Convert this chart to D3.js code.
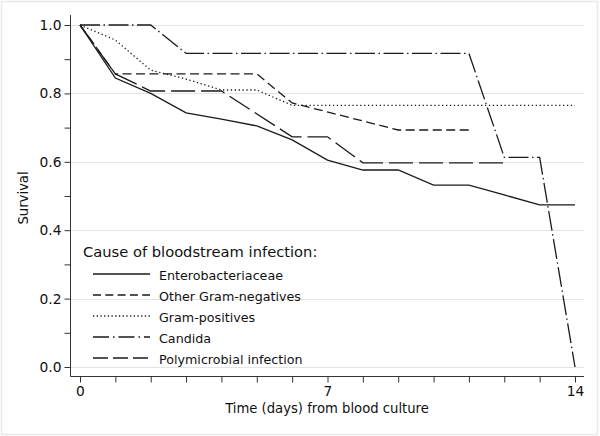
<!DOCTYPE html>
<html><head><meta charset="utf-8">
<script src="https://cdn.jsdelivr.net/npm/d3@7"></script>
<style>
html,body{margin:0;padding:0;background:#fff;}
svg{display:block;font-family:"DejaVu Sans",sans-serif;}
</style></head>
<body>
<svg id="chart" width="600" height="436"></svg>
<script>
// ---- data ----
const seriesNames = ["Enterobacteriaceae","Other Gram-negatives","Gram-positives","Candida","Polymicrobial infection"];
const enteroDays = [0,1,2,3,4,5,6,7,8,9,10,11,12,13,14];
const enteroSurv = [1,0.845,0.80,0.743,0.725,0.705,0.664,0.605,0.576,0.576,0.532,0.532,0.503,0.474,0.474];
const otherGnDays = [0,1,5,6,9,11];
const otherGnSurv = [1,0.857,0.857,0.772,0.693,0.693];
const gramPosDays = [0,1,2,3,4,5,6,14];
const gramPosSurv = [1,0.956,0.868,0.842,0.810,0.810,0.765,0.765];
const candidaDays = [0,2,3,11,12,13,14];
const candidaSurv = [1,1,0.917,0.917,0.613,0.613,0];
const polyDays = [0,1,2,4,6,7,8,12];
const polySurv = [1,0.857,0.807,0.807,0.673,0.673,0.597,0.597];
const yTicks = [0,0.2,0.4,0.6,0.8,1.0];
const yMinorTicks = [0.1,0.3,0.5,0.7,0.9];
const xTicks = d3.range(0,15);
const xLabels = [0,7,14];
const legendTitle = "Cause of bloodstream infection:";
const xTitle = "Time (days) from blood culture";
const yTitle = "Survival";

// styles
const plotDash = ["", "9,4.5", "1.3,2.6", "20,3.5,1.5,3.5", "24,6"];
const legendDash = ["", "8,4.3", "1.3,2.4", "16,4,1.5,4", "15,5"];

const svg = d3.select("#chart");
const W = 600, H = 436;
svg.append("rect").attr("x",1.5).attr("y",1.5).attr("width",W-4).attr("height",H-3)
  .attr("fill","#fff").attr("stroke","#e9e9e9").attr("stroke-width",1.5);

const x = d3.scaleLinear().domain([0,14]).range([80,575]);
const y = d3.scaleLinear().domain([0,1]).range([367,25]);
const axisX = 70.5, axisY = 376.5, plotRight = 584;

// gridlines
svg.append("g").selectAll("line").data(yTicks).join("line")
  .attr("x1",axisX).attr("x2",plotRight)
  .attr("y1",d=>Math.round(y(d))+0.5).attr("y2",d=>Math.round(y(d))+0.5)
  .attr("stroke","#e4e4e4").attr("stroke-width",1.2);

// y axis
const yAxis = d3.axisLeft(y).tickValues(yTicks).tickFormat(d3.format(".1f")).tickSize(6).tickPadding(3);
const gy = svg.append("g").attr("transform",`translate(${axisX},0)`).call(yAxis);
gy.select(".domain").attr("d",`M0,15V${axisY}`).attr("stroke","#333");
gy.selectAll(".tick line").attr("stroke","#333");
gy.selectAll(".tick text").attr("font-size",13.8).attr("font-family","DejaVu Sans").attr("fill","#111");
svg.append("g").attr("transform",`translate(${axisX},0)`)
  .call(d3.axisLeft(y).tickValues(yMinorTicks).tickFormat("").tickSize(6))
  .call(g=>{g.select(".domain").remove(); g.selectAll("line").attr("stroke","#333");});

// x axis
const xAxis = d3.axisBottom(x).tickValues(xTicks).tickSize(6).tickPadding(4)
  .tickFormat(d=>xLabels.includes(d)?d:"");
const gx = svg.append("g").attr("transform",`translate(0,${axisY})`).call(xAxis);
gx.select(".domain").attr("d",`M${axisX},0H${plotRight}`).attr("stroke","#333");
gx.selectAll(".tick line").attr("stroke","#333");
gx.selectAll(".tick text").attr("font-size",13.8).attr("font-family","DejaVu Sans").attr("fill","#111");

// titles
svg.append("text").attr("x",327).attr("y",408).attr("text-anchor","middle")
  .attr("dominant-baseline","central").attr("font-size",13.2).attr("fill","#111").text(xTitle);
svg.append("text").attr("transform","translate(23,198) rotate(-90)").attr("text-anchor","middle")
  .attr("dominant-baseline","central").attr("font-size",13.2).attr("fill","#111").text(yTitle);

// lines
const allSeries = [
  {days:enteroDays, surv:enteroSurv},
  {days:otherGnDays, surv:otherGnSurv},
  {days:gramPosDays, surv:gramPosSurv},
  {days:candidaDays, surv:candidaSurv},
  {days:polyDays, surv:polySurv}
];
const line = d3.line().x(d=>x(d[0])).y(d=>y(d[1]));
svg.append("g").selectAll("path").data(allSeries).join("path")
  .attr("d",s=>line(s.days.map((d,i)=>[d,s.surv[i]])))
  .attr("fill","none").attr("stroke","#1a1a1a").attr("stroke-width",1.3)
  .attr("stroke-dasharray",(s,i)=>plotDash[i]||null);

// legend
const lg = svg.append("g");
lg.append("text").attr("x",83).attr("y",251).attr("dominant-baseline","central")
  .attr("font-size",14.7).attr("fill","#111").text(legendTitle);
const rows = lg.selectAll("g.row").data(seriesNames).join("g").attr("class","row")
  .attr("transform",(d,i)=>`translate(0,${274 + i*21})`);
rows.append("line").attr("x1",93).attr("x2",150).attr("y1",0).attr("y2",0)
  .attr("stroke","#1a1a1a").attr("stroke-width",1.3)
  .attr("stroke-dasharray",(d,i)=>legendDash[i]||null);
rows.append("text").attr("x",159).attr("y",1).attr("dominant-baseline","central")
  .attr("font-size",12.7).attr("fill","#111").text(d=>d);
</script>
</body></html>
